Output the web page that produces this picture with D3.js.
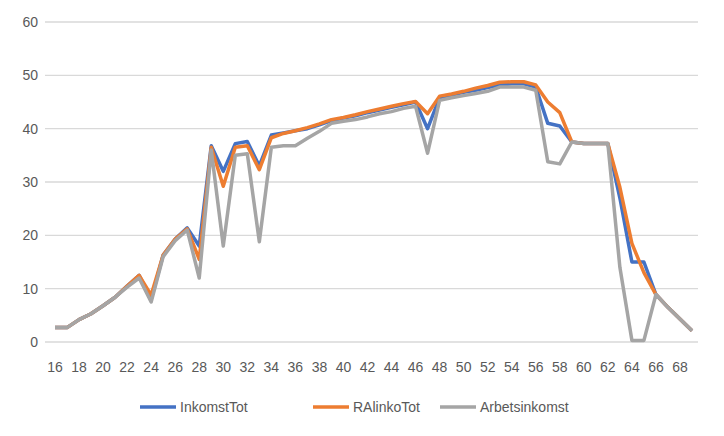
<!DOCTYPE html><html><head><meta charset="utf-8"><script src="https://cdn.jsdelivr.net/npm/d3@7"></script>
<style>body{margin:0;background:#fff}text{font-family:"Liberation Sans",Arial,sans-serif;fill:#595959}</style></head><body><svg id="c" width="724" height="436"></svg><script>
const ages=d3.range(16,70);
const inkomstTot=[2.7,2.7,4.2,5.3,6.8,8.4,10.5,12.5,8,16.3,19.3,21.4,18,36.8,32,37.2,37.6,33,38.8,39.2,39.6,40,40.7,41.5,42,42.4,43,43.5,44,44.5,45,40,45.8,46.3,46.8,47.2,47.7,48.2,48.4,48.4,47.8,41,40.5,37.5,37.2,37.2,37.2,27,15,15,8.9,6.5,4.3,2.1];
const raLinkoTot=[2.7,2.7,4.2,5.3,6.8,8.4,10.5,12.5,8.8,16.3,19.3,21.2,15.5,36.5,29.2,36.5,36.8,32.3,38.3,39.1,39.6,40.2,40.9,41.7,42.1,42.6,43.2,43.7,44.2,44.7,45.1,42.8,46.1,46.5,47,47.6,48.1,48.7,48.8,48.8,48.2,45,43,37.5,37.2,37.2,37.2,29,18.5,13,8.9,6.5,4.3,2.1];
const arbetsinkomst=[2.7,2.7,4.2,5.3,6.8,8.4,10.3,12,7.5,16,19,21,12,36,18,35,35.3,18.8,36.5,36.8,36.8,38.2,39.5,41,41.4,41.7,42.2,42.8,43.2,43.8,44.2,35.4,45.3,45.8,46.2,46.6,47,47.8,47.8,47.8,47.2,33.8,33.4,37.5,37.2,37.2,37.2,14,0.3,0.3,8.9,6.5,4.3,2.1];
const yTicks=[0,10,20,30,40,50,60];
const series=[{name:"InkomstTot",v:inkomstTot,c:"#4472C4"},{name:"RAlinkoTot",v:raLinkoTot,c:"#ED7D31"},{name:"Arbetsinkomst",v:arbetsinkomst,c:"#A5A5A5"}];
const svg=d3.select("#c");
const x=d3.scalePoint().domain(ages).range([49,698]).padding(0.5);
const y=d3.scaleLinear().domain([0,60]).range([342,22]);
svg.append("g").selectAll("line").data(yTicks).join("line").attr("x1",45).attr("x2",698).attr("y1",d=>y(d)).attr("y2",d=>y(d)).attr("stroke","#d9d9d9").attr("stroke-width",1.3);
svg.append("g").selectAll("text").data(yTicks).join("text").attr("x",38).attr("y",d=>y(d)+5).attr("text-anchor","end").attr("font-size",14).text(d=>d);
svg.append("g").selectAll("text").data(ages.filter(a=>a%2===0)).join("text").attr("x",d=>x(d)).attr("y",372).attr("text-anchor","middle").attr("font-size",14).text(d=>d);
const line=d3.line().x((d,i)=>x(ages[i])).y(d=>y(d));
[series[2],series[1],series[0]].forEach(s=>{});
// draw order: blue, orange, grey on top? reference: orange over blue, grey on top
[series[0],series[1],series[2]].forEach(s=>svg.append("path").attr("d",line(s.v)).attr("fill","none").attr("stroke",s.c).attr("stroke-width",3.5).attr("stroke-linejoin","round"));
const lx=[140,313,440];
series.forEach((s,i)=>{svg.append("line").attr("x1",lx[i]).attr("x2",lx[i]+36).attr("y1",407).attr("y2",407).attr("stroke",s.c).attr("stroke-width",3.5);
svg.append("text").attr("x",lx[i]+40).attr("y",412).attr("font-size",14).text(s.name);});
</script></body></html>
